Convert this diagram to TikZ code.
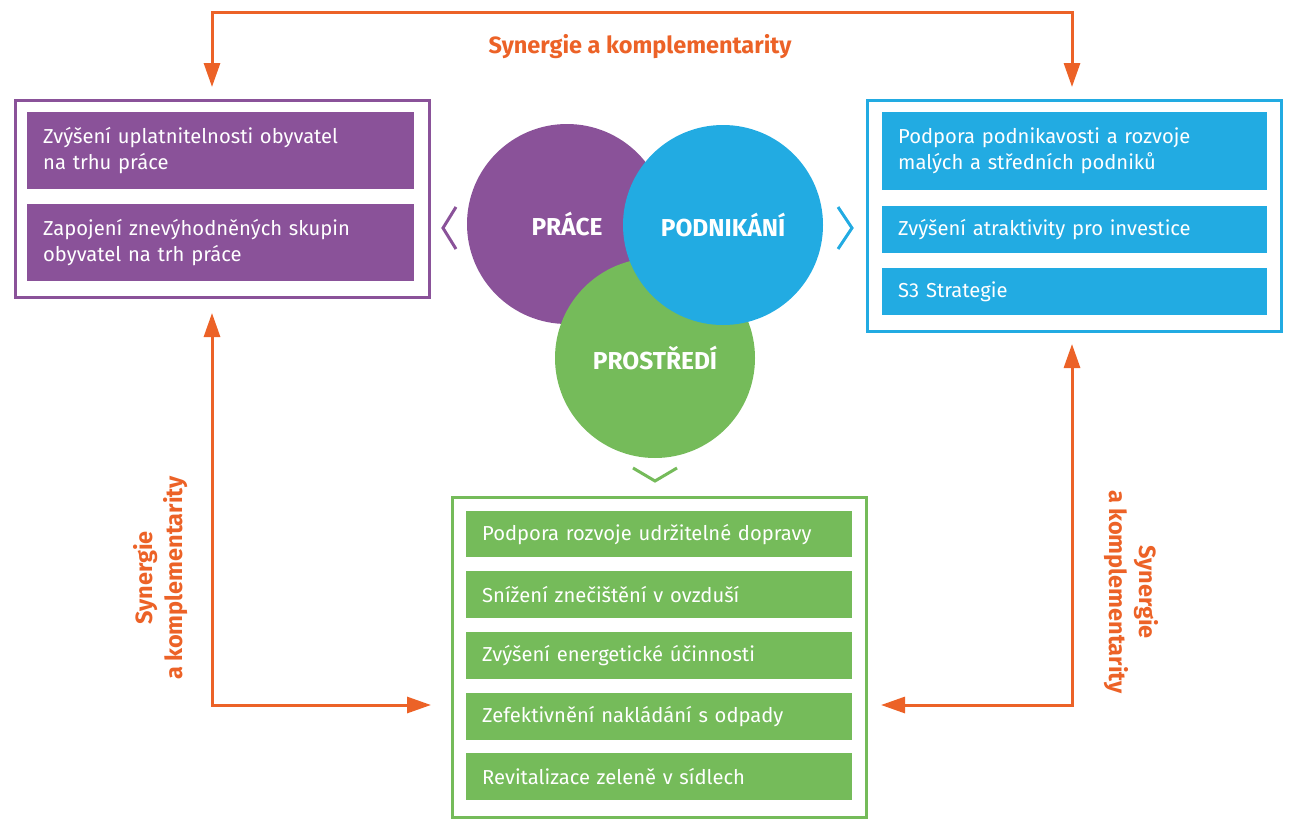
\documentclass[tikz,border=0pt]{standalone}
\usepackage{fontspec}
\setmainfont{Fira Sans}
\usetikzlibrary{arrows.meta}
\definecolor{cpurple}{RGB}{138,82,153}
\definecolor{cblue}{RGB}{34,171,226}
\definecolor{cgreen}{RGB}{117,187,90}
\definecolor{corange}{RGB}{236,98,39}
\begin{document}
\begin{tikzpicture}[x=1pt,y=-1pt,
  frame/.style={draw=#1, line width=2.5pt, anchor=north west, inner sep=0pt},
  item/.style={fill=#1, text=white, anchor=north west, inner xsep=16pt, inner ysep=0pt, align=left, font=\fontsize{20.2}{26}\selectfont},
  ball/.style={circle, fill=#1, inner sep=0pt, minimum size=200pt, text=white, font=\bfseries\fontsize{24.5}{28}\selectfont},
  arr/.style={draw=corange, line width=3pt, {Triangle[length=24pt,width=16pt]}-{Triangle[length=24pt,width=16pt]}},
  lbl/.style={text=corange, font=\bfseries\fontsize{23.5}{30}\selectfont, align=center},
  chev/.style={line width=3pt, line join=miter}
]
\useasboundingbox (0,0) rectangle (1299,827);
% frames
\node[frame=cpurple, minimum width=414pt, minimum height=197pt] (lframe) at (14,99) {};
\node[frame=cblue, minimum width=414pt, minimum height=231pt] (rframe) at (866,99) {};
\node[frame=cgreen, minimum width=414pt, minimum height=320pt] (bframe) at (451,496) {};
% left items
\node[item=cpurple, text width=355pt, minimum height=77pt] (l1) at (27,112) {Zvýšení uplatnitelnosti obyvatel\\na trhu práce};
\node[item=cpurple, text width=355pt, minimum height=77pt] (l2) at (27,204) {Zapojení znevýhodněných skupin\\obyvatel na trh práce};
% right items
\node[item=cblue, text width=353pt, minimum height=78pt] (r1) at (882,112) {Podpora podnikavosti a rozvoje\\malých a středních podniků};
\node[item=cblue, text width=353pt, minimum height=47pt] (r2) at (882,206) {Zvýšení atraktivity pro investice};
\node[item=cblue, text width=353pt, minimum height=47pt] (r3) at (882,268) {S3 Strategie};
% bottom items
\node[item=cgreen, text width=354pt, minimum height=46pt] (b1) at (466,511) {Podpora rozvoje udržitelné dopravy};
\node[item=cgreen, text width=354pt, minimum height=47pt] (b2) at (466,571) {Snížení znečištění v ovzduší};
\node[item=cgreen, text width=354pt, minimum height=47pt] (b3) at (466,632) {Zvýšení energetické účinnosti};
\node[item=cgreen, text width=354pt, minimum height=47pt] (b4) at (466,693) {Zefektivnění nakládání s odpady};
\node[item=cgreen, text width=354pt, minimum height=47pt] (b5) at (466,753) {Revitalizace zeleně v sídlech};
% circles
\node[ball=cpurple] (prace) at (567,224) {PRÁCE};
\node[ball=cgreen] (prostredi) at (655,358) {PROSTŘEDÍ};
\node[ball=cblue] (podnikani) at (723,225) {PODNIKÁNÍ};
% chevrons
\draw[chev, cpurple] (456,207) -- (443,228) -- (456,249);
\draw[chev, cblue] (838,207) -- (852,228) -- (838,249);
\draw[chev, cgreen] (633,468) -- (655,481) -- (677,468);
% orange arrows
\coordinate (ta) at (212,87);
\coordinate (tb) at (1072,87);
\draw[arr] (ta) -- (212,12) -- (1072,12) -- (tb);
\coordinate (la) at (212,313);
\coordinate (lb) at (431,705);
\draw[arr] (la) |- (lb);
\coordinate (ra) at (1072,344);
\coordinate (rb) at (881,705);
\draw[arr] (ra) |- (rb);
% labels
\node[lbl] (ttop) at (640,47) {Synergie a komplementarity};
\node[lbl, rotate=90] (tleft) at (161,578) {Synergie\\a komplementarity};
\node[lbl, rotate=-90] (tright) at (1131,592) {Synergie\\a komplementarity};
\end{tikzpicture}
\end{document}
